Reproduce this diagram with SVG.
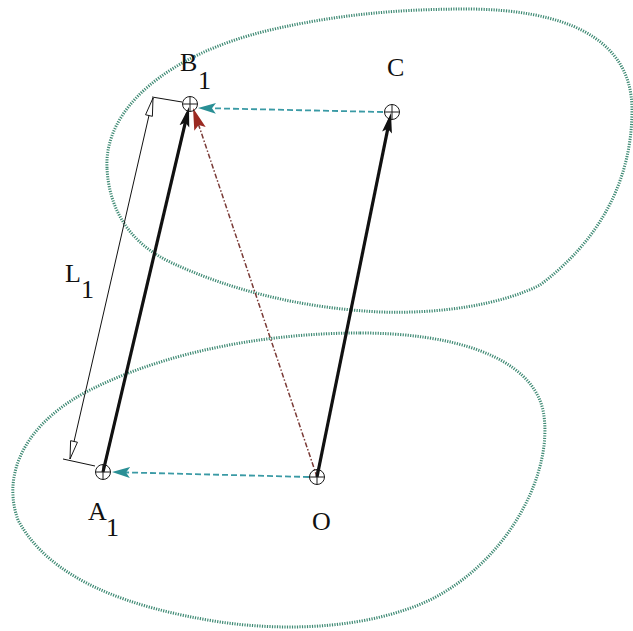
<svg xmlns="http://www.w3.org/2000/svg" width="633" height="631" viewBox="0 0 633 631">
  <style>
    .blob { fill: none; stroke: #3f8a74; stroke-width: 3; stroke-dasharray: 1.2 1.3; }
    .pt { fill: none; stroke: #1a1a1a; stroke-width: 1; }
    .lbl { font-family: "Liberation Serif", "DejaVu Serif", serif; font-size: 26px; fill: #111; }
    .thick { stroke: #111; stroke-width: 3.2; fill: none; }
    .teal { stroke: #3a9aa5; stroke-width: 1.8; stroke-dasharray: 6 3; fill: none; }
    .red { stroke: #7a3a36; stroke-width: 1.5; stroke-dasharray: 5 2 1.5 2; fill: none; }
    .dim { stroke: #111; stroke-width: 1; fill: none; }
  </style>
  <defs>
    <marker id="mBlack" viewBox="0 0 20 12" refX="14" refY="6" markerWidth="20" markerHeight="12" markerUnits="userSpaceOnUse" orient="auto">
      <path d="M20,6 L0,1 L4,6 L0,11 Z" fill="#111"/>
    </marker>
    <marker id="mTeal" viewBox="0 0 18 12" refX="12" refY="6" markerWidth="18" markerHeight="12" markerUnits="userSpaceOnUse" orient="auto">
      <path d="M18,6 L0,0.5 L4,6 L0,11.5 Z" fill="#2a8f95"/>
    </marker>
    <marker id="mRed" viewBox="0 0 22 14" refX="16" refY="7" markerWidth="22" markerHeight="14" markerUnits="userSpaceOnUse" orient="auto">
      <path d="M22,7 L0,1 L4,7 L0,13 Z" fill="#9b2a22"/>
    </marker>
    <marker id="mOpen" viewBox="0 0 20 10" refX="19" refY="5" markerWidth="20" markerHeight="10" markerUnits="userSpaceOnUse" orient="auto-start-reverse">
      <path d="M19,5 L1,1.5 L1,8.5 Z" fill="#fff" stroke="#111" stroke-width="0.9"/>
    </marker>
  </defs>

  <g id="regions">
    <path id="region-upper" class="blob" d="M107,168 C104,110 165,55 270,30 C340,14 400,9 470,9 C560,10 632,35 632,110 C632,180 600,240 540,285 C500,305 440,314 380,312 C300,308 230,290 170,262 C130,243 109,210 107,168 Z"/>
    <path id="region-lower" class="blob" d="M360,333 C450,333 530,355 543,410 C555,470 510,560 430,600 C370,628 290,632 220,622 C130,608 50,580 18,520 C0,470 30,420 90,390 C170,350 270,333 360,333 Z"/>
  </g>

  <g id="connectors">
    <line class="red" x1="317" y1="477" x2="194.9" y2="113.7" marker-end="url(#mRed)"/>
    <line class="teal" x1="383" y1="112" x2="204" y2="108.1" marker-end="url(#mTeal)"/>
    <line class="teal" x1="309" y1="477" x2="118" y2="472.2" marker-end="url(#mTeal)"/>
    <line class="thick" x1="103" y1="472" x2="187.6" y2="112.8" marker-end="url(#mBlack)"/>
    <line class="thick" x1="317" y1="477" x2="389.8" y2="118.9" marker-end="url(#mBlack)"/>
  </g>

  <g id="dimension-L1">
    <line class="dim" x1="152" y1="97" x2="182" y2="102"/>
    <line class="dim" x1="63" y1="459" x2="95" y2="466"/>
    <line class="dim" x1="70" y1="459" x2="153" y2="98" marker-start="url(#mOpen)" marker-end="url(#mOpen)"/>
    <text class="lbl" x="65" y="282">L</text>
    <text class="lbl" x="81" y="298">1</text>
  </g>

  <g id="node-B1">
    <circle class="pt" cx="190" cy="104" r="7.5"/>
    <path class="pt" d="M182.5,104 H197.5 M190,96.5 V111.5"/>
    <text class="lbl" x="180" y="71">B</text>
    <text class="lbl" x="198" y="89">1</text>
  </g>

  <g id="node-C">
    <circle class="pt" cx="392" cy="112" r="7.5"/>
    <path class="pt" d="M384.5,112 H399.5 M392,104.5 V119.5"/>
    <text class="lbl" x="387" y="76">C</text>
  </g>

  <g id="node-A1">
    <circle class="pt" cx="103" cy="472" r="7.5"/>
    <path class="pt" d="M95.5,472 H110.5 M103,464.5 V479.5"/>
    <text class="lbl" x="88" y="520">A</text>
    <text class="lbl" x="106" y="536">1</text>
  </g>

  <g id="node-O">
    <circle class="pt" cx="317" cy="477" r="7.5"/>
    <path class="pt" d="M309.5,477 H324.5 M317,469.5 V484.5"/>
    <text class="lbl" x="312" y="530">O</text>
  </g>
</svg>
